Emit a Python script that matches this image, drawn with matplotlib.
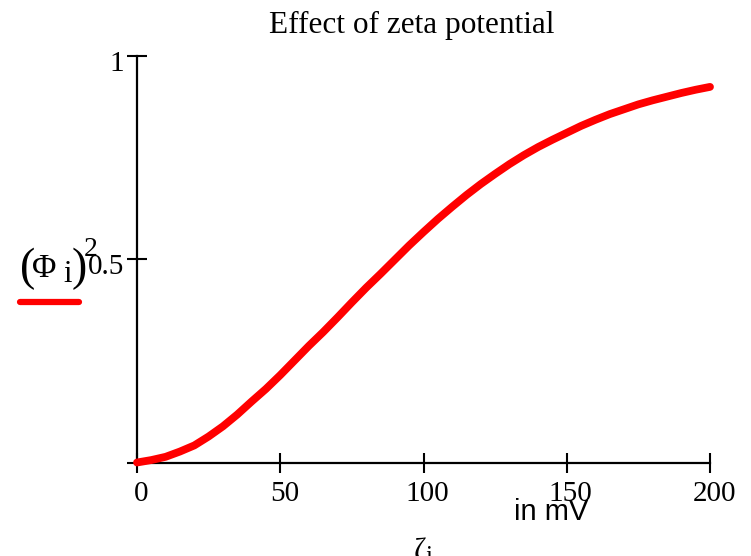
import matplotlib
matplotlib.use("Agg")
import matplotlib.pyplot as plt
from matplotlib.lines import Line2D
from matplotlib.transforms import ScaledTranslation

# zeta potential (mV) and (Phi_i)^2
zeta = [0, 5, 10, 15, 20, 25, 30, 35, 40, 45, 50, 55, 60, 65, 70, 75, 80, 85, 90, 95,
        100, 105, 110, 115, 120, 125, 130, 135, 140, 145, 150, 155, 160, 165, 170, 175,
        180, 185, 190, 195, 200]
phi_sq = [0.0, 0.006, 0.014, 0.027, 0.042, 0.064, 0.089, 0.118, 0.150, 0.181, 0.215,
          0.251, 0.287, 0.321, 0.357, 0.394, 0.430, 0.464, 0.499, 0.534, 0.567, 0.599,
          0.629, 0.658, 0.685, 0.710, 0.734, 0.756, 0.776, 0.794, 0.811, 0.828, 0.843,
          0.857, 0.869, 0.881, 0.891, 0.900, 0.909, 0.917, 0.924]

xticks = [0, 50, 100, 150, 200]
yticks = [0, 0.5, 1]
ytick_labels = ['', '0.5', '1']

W, H = 751, 556
SERIF = ['Liberation Serif', 'DejaVu Serif']


def px(x, y):
    # pixel position -> figure fraction
    return x / W, 1 - y / H


fig = plt.figure(figsize=(W / 100, H / 100), dpi=100)
ax = fig.add_axes([137 / W, 1 - 462.5 / H, (710 - 137) / W, (462.5 - 56) / H])

ax.plot(zeta, phi_sq, color='#ff0000', lw=5.6, solid_capstyle='round',
        solid_joinstyle='round', clip_on=False, zorder=5)

ax.set_xlim(0, 200)
ax.set_ylim(0, 1)
for s in ['top', 'right']:
    ax.spines[s].set_visible(False)
for s in ['left', 'bottom']:
    ax.spines[s].set_linewidth(1.6)

ax.set_xticks(xticks)
ax.set_xticklabels([str(t) for t in xticks])
ax.set_yticks(yticks)
ax.set_yticklabels(ytick_labels)
ax.tick_params(direction='inout', length=15, width=1.5, labelsize=21, color='black')
ax.tick_params(axis='x', pad=6)
ax.tick_params(axis='y', pad=2)
for lab in ax.get_xticklabels() + ax.get_yticklabels():
    lab.set_family(SERIF)
for lab in ax.get_xticklabels():
    lab.set_transform(lab.get_transform() + ScaledTranslation(0.04, 0, fig.dpi_scale_trans))
for lab in ax.get_yticklabels():
    lab.set_transform(lab.get_transform() + ScaledTranslation(0, -0.05, fig.dpi_scale_trans))

# title
fig.text(*px(412, 25), 'Effect of zeta potential', ha='center', va='center',
         fontsize=22.5, family=SERIF)

# y label: (Phi i)^2 with trace marker below
fig.text(*px(27.5, 269), '(', ha='center', va='center', fontsize=33, family=SERIF)
fig.text(*px(44, 269), '\u03a6', ha='center', va='center', fontsize=24, family=SERIF)
fig.text(*px(67.5, 274), 'i', ha='center', va='center', fontsize=22, family=SERIF)
fig.text(*px(79, 269), ')', ha='center', va='center', fontsize=33, family=SERIF)
fig.text(*px(91, 250), '2', ha='center', va='center', fontsize=20, family=SERIF)
x0, y0 = px(20, 302)
x1, y1 = px(79, 302)
fig.add_artist(Line2D([x0, x1], [y0, y1], color='#ff0000', lw=4.5,
                      solid_capstyle='round', transform=fig.transFigure))

# x label pieces
fig.text(*px(551, 512), 'in mV', ha='center', va='center', fontsize=21,
         family=['Liberation Sans', 'DejaVu Sans'])
fig.text(*px(420, 560), '\u03b6', ha='center', va='baseline', fontsize=22, family=SERIF)
fig.text(*px(429, 563), 'i', ha='center', va='baseline', fontsize=18, family=SERIF)

fig.savefig('out.png', dpi=100)
